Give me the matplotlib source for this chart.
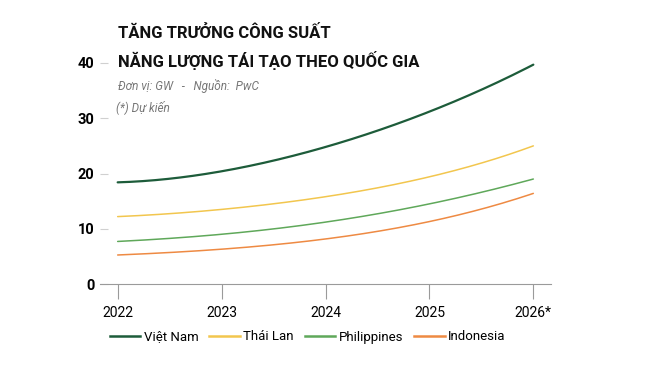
import numpy as np
import matplotlib.pyplot as plt
from matplotlib.lines import Line2D

# du lieu doc tu bieu do (GW)
years = [2022, 2023, 2024, 2025, 2026]
year_labels = ['2022', '2023', '2024', '2025', '2026*']
vietnam = [18.4, 20.4, 24.8, 31.2, 39.7]
thailand = [12.2, 13.5, 15.8, 19.4, 25.0]
philippines = [7.7, 9.0, 11.2, 14.5, 19.0]
indonesia = [5.25, 6.3, 8.15, 11.3, 16.4]
names = ['Việt Nam', 'Thái Lan', 'Philippines', 'Indonesia']
colors = ['#1d5c3a', '#f2c64e', '#5fa85a', '#ee8a43']

cond = ['Liberation Sans Narrow', 'Roboto', 'DejaVu Sans']

fig = plt.figure(figsize=(6.67, 3.67), dpi=100)
ax = fig.add_axes([100 / 667, 1 - 284 / 367, 451 / 667, 221 / 367])

# ve duong cong muot qua cac diem
xs = np.linspace(years[0], years[-1], 200)
for vals, c in zip([vietnam, thailand, philippines, indonesia], colors):
    p = np.polyfit(years, vals, 4)
    lw = 1.6 if c == colors[0] else 1.1
    ax.plot(xs, np.polyval(p, xs), color=c, lw=lw, solid_capstyle='round')

ax.set_xlim(2021.83, 2026.17)
ax.set_ylim(0, 40)
ax.set_yticks([0, 10, 20, 30, 40])
ax.set_xticks(years)
ax.set_xticklabels(year_labels)
for s in ['top', 'right', 'left']:
    ax.spines[s].set_visible(False)
ax.spines['bottom'].set_color('#9a9a9a')
ax.spines['bottom'].set_linewidth(0.8)
ax.tick_params(axis='y', direction='in', length=6, color='#d0d0d0', pad=4,
               labelsize=10.5)
ax.tick_params(axis='x', direction='out', length=11, color='#9a9a9a', width=0.8,
               pad=5, labelsize=10)
for t in ax.get_xticklabels() + ax.get_yticklabels():
    t.set_family(cond)
for t in ax.get_yticklabels():
    t.set_fontweight('bold')

# tieu de
fig.text(118 / 667, 1 - 33 / 367, 'TĂNG TRƯỞNG CÔNG SUẤT', family=cond,
         fontsize=12, fontweight='bold', va='center', ha='left', color='#111111')
fig.text(118 / 667, 1 - 60 / 367, 'NĂNG LƯỢNG TÁI TẠO THEO QUỐC GIA', family=cond,
         fontsize=12, fontweight='bold', va='center', ha='left', color='#111111')
fig.text(118 / 667, 1 - 86 / 367, 'Đơn vị: GW   -   Nguồn:  PwC', family=cond,
         fontsize=8.5, style='italic', va='center', ha='left', color='#777777')
fig.text(116 / 667, 1 - 107 / 367, '(*) Dự kiến', family=cond,
         fontsize=8.5, style='italic', va='center', ha='left', color='#777777')

handles = [Line2D([], [], color=c, lw=1.8) for c in colors]
fig.legend(handles, names, loc='center left', bbox_to_anchor=(98 / 667, 1 - 337 / 367),
           ncol=4, frameon=False, handlelength=2.3, handletextpad=0.25,
           columnspacing=0.85, prop={'family': 'Roboto', 'size': 9.5})

fig.savefig('out.png', dpi=100)
